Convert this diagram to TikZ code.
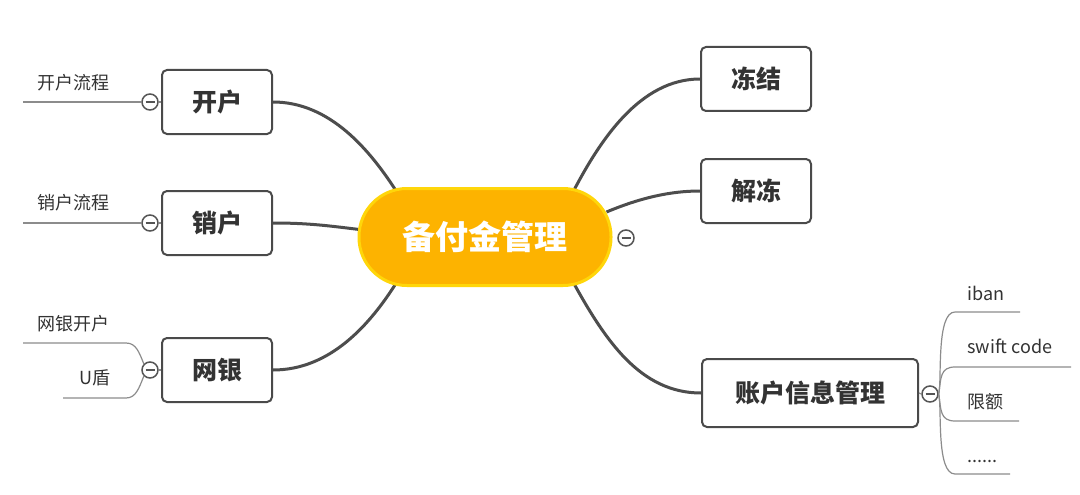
\documentclass[tikz,border=0pt]{standalone}
\usepackage{fontspec}
\setmainfont{Noto Sans CJK SC}
\pgfdeclarelayer{back}
\pgfdeclarelayer{bg}
\pgfsetlayers{back,bg,main}
\definecolor{rootfill}{HTML}{FDB300}
\definecolor{rootborder}{HTML}{FFD60A}
\definecolor{boxc}{HTML}{4A4A4A}
\definecolor{textc}{HTML}{333333}
\definecolor{linec}{HTML}{4D4D4D}
\definecolor{twigc}{HTML}{8C8C8C}
\definecolor{foldc}{HTML}{555555}
\tikzset{
  root/.style={rounded corners=48pt, fill=rootfill, draw=rootborder, line width=3pt,
    minimum width=252pt, minimum height=97pt, text=white,
    font=\fontsize{33}{33}\selectfont\bfseries},
  topic/.style={draw=boxc, line width=2pt, rounded corners=5pt, fill=white,
    minimum width=110pt, minimum height=64pt, text=textc,
    font=\fontsize{25}{25}\selectfont\bfseries},
  leaf/.style={font=\fontsize{18}{18}\selectfont, text=textc, anchor=west, inner sep=0pt},
  fold/.style={circle, draw=foldc, line width=1.5pt, fill=white, minimum size=16pt,
    inner sep=0pt,
    path picture={\draw[line width=1.5pt, foldc]
      ([xshift=-4.5pt]path picture bounding box.center) --
      ([xshift=4.5pt]path picture bounding box.center);}},
  branch/.style={draw=linec, line width=3pt},
  twig/.style={draw=twigc, line width=1.2pt}
}
\begin{document}
\begin{tikzpicture}[x=1pt,y=-1pt]
\begin{pgfonlayer}{back}
\useasboundingbox[fill=white] (0,0) rectangle (1080,495);
\end{pgfonlayer}

% central topic
\node[root] (root) at (485,237) {备付金管理};

% main topics
\node[topic] (kh) at (217,102) {开户};
\node[topic] (xh) at (217,223) {销户};
\node[topic] (wy) at (217,370) {网银};
\node[topic] (dj) at (756,79) {冻结};
\node[topic] (jd) at (756,191) {解冻};
\node[topic, minimum width=216pt, minimum height=68pt] (zh) at (810,393) {账户信息管理};

% branches
\begin{pgfonlayer}{bg}
\draw[branch] (kh.east) .. controls (330,102) and (370,150) .. ([shift={(40,6)}]root.north west);
\draw[branch] (xh.east) .. controls (310,223) and (330,226) .. ([shift={(6,-7)}]root.west);
\draw[branch] (wy.east) .. controls (330,370) and (370,325) .. ([shift={(40,-6)}]root.south west);
\draw[branch] ([shift={(-40,6)}]root.north east) .. controls (600,140) and (640,79) .. (dj.west);
\draw[branch] ([shift={(-6,-25)}]root.east) .. controls (640,198) and (670,191) .. (jd.west);
\draw[branch] ([shift={(-40,-6)}]root.south east) .. controls (605,340) and (640,393) .. (zh.west);
\end{pgfonlayer}

% fold markers
\node[fold] (fkh) at (150,102) {};
\node[fold] (fxh) at (150,223) {};
\node[fold] (fwy) at (150,370) {};
\node[fold] (froot) at (626,238) {};
\node[fold] (fzh) at (930,394) {};

% left leaves
\coordinate (ekh) at (23,102);
\coordinate (exh) at (23,223);
\coordinate (ewy1) at (23,343);
\coordinate (ewy2) at (63,398);
\draw[twig] (kh.west) -- (fkh.east);
\draw[twig] (xh.west) -- (fxh.east);
\draw[twig] (wy.west) -- (fwy.east);
\draw[twig] (fkh.west) -- (ekh);
\draw[twig] (fxh.west) -- (exh);
\draw[twig] (fwy.north west) .. controls (139,352) and (136,343) .. (126,343) -- (ewy1);
\draw[twig] (fwy.south west) .. controls (139,388) and (136,398) .. (126,398) -- (ewy2);
\node[leaf] (tkh) at (37,83) {开户流程};
\node[leaf] (txh) at (37,203) {销户流程};
\node[leaf] (twy1) at (37,324) {网银开户};
\node[leaf] (twy2) at (79,378) {U盾};

% right leaves
\coordinate (e1) at (1020,312);
\coordinate (e2) at (1071,367);
\coordinate (e3) at (1019,421);
\coordinate (e4) at (1010,474);
\draw[twig] (zh.east) -- (fzh.west);
\draw[twig] (fzh.east) .. controls (942,380) and (936,312) .. (955,312) -- (e1);
\draw[twig] (fzh.east) .. controls (941,378) and (940,367) .. (955,367) -- (e2);
\draw[twig] (fzh.east) .. controls (941,410) and (940,421) .. (955,421) -- (e3);
\draw[twig] (fzh.east) .. controls (942,408) and (936,474) .. (955,474) -- (e4);
\node[leaf] (t1) at (967,293) {iban};
\node[leaf] (t2) at (967,346) {swift code};
\node[leaf] (t3) at (967,402) {限额};
\node[leaf, anchor=base west] (t4) at (967,462) {......};
\end{tikzpicture}
\end{document}
